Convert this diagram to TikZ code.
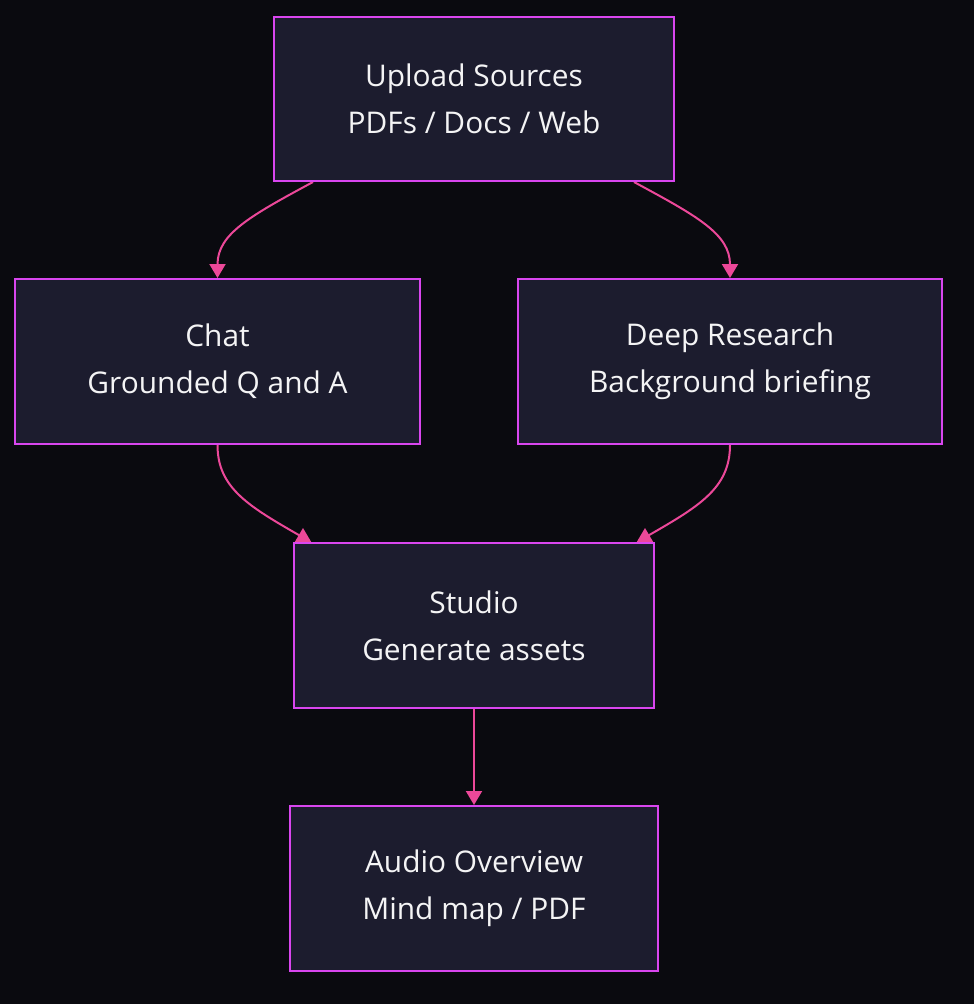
\documentclass[tikz,border=0pt]{standalone}
\usepackage{fontspec}
\setmainfont{Open Sans}
\usetikzlibrary{arrows.meta,calc,backgrounds}

\definecolor{bgdark}{HTML}{0A0A0F}
\definecolor{stagefill}{HTML}{1C1C2E}
\definecolor{stageborder}{HTML}{D946EF}
\definecolor{flowpink}{HTML}{EC4899}
\definecolor{stagetext}{HTML}{F4F4F5}

\begin{document}
\begin{tikzpicture}[
  x=0.75pt, y=-0.75pt,
  stage/.style={draw=stageborder, line width=1.5pt, fill=stagefill,
                text=stagetext, align=center, minimum height=123.75pt,
                font=\fontsize{22.4}{35.25}\selectfont},
  flow/.style={draw=flowpink, line width=1.5pt,
               -{Triangle[length=10.5pt, width=12pt]}},
  flowtip/.style={fill=flowpink}
]
  \node[stage, minimum width=300pt, minimum height=123pt] (upload) at (474,99)
    {Upload Sources\\PDFs / Docs / Web};
  \node[stage, minimum width=303.75pt] (chat) at (217.5,361.5)
    {Chat\\Grounded Q and A};
  \node[stage, minimum width=318pt] (deep) at (730,361.5)
    {Deep Research\\Background briefing};
  \node[stage, minimum width=270pt] (studio) at (474,625.5)
    {Studio\\Generate assets};
  \node[stage, minimum width=276pt] (audio) at (474,888.5)
    {Audio Overview\\Mind map / PDF};

  \begin{pgfonlayer}{background}
    \fill[bgdark] (0,0) rectangle (974,1004);
    % sources fan out
    \draw[flow] ($(upload.south)+(-161,0)$) .. controls +(-63,34) and +(0,-44) .. (chat.north);
    \draw[flow] ($(upload.south)+(160,0)$) .. controls +(63,34) and +(0,-44) .. (deep.north);
    % both feed the studio
    \draw[flowpink, line width=1.5pt] (chat.south) .. controls +(0,44) and +(-54,-31) .. ($(studio.north)+(-170,-4)$);
    \fill[flowtip] ($(studio.north)+(-171,-14)$) -- ($(studio.north)+(-181,3)$) -- ($(studio.north)+(-161,3)$) -- cycle;
    \draw[flowpink, line width=1.5pt] (deep.south) .. controls +(0,44) and +(54,-31) .. ($(studio.north)+(170,-4)$);
    \fill[flowtip] ($(studio.north)+(171,-14)$) -- ($(studio.north)+(181,3)$) -- ($(studio.north)+(161,3)$) -- cycle;
    \draw[flow] (studio) -- (audio);
  \end{pgfonlayer}
  \useasboundingbox (0,0) rectangle (974,1004);
\end{tikzpicture}
\end{document}
